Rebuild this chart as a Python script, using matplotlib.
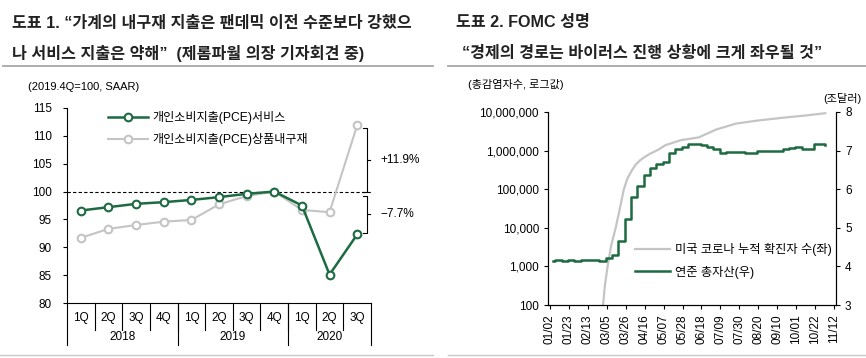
import matplotlib
matplotlib.use("Agg")
import matplotlib.pyplot as plt
import matplotlib.dates as mdates
import matplotlib.ticker as mticker
from matplotlib.lines import Line2D
import numpy as np
import pandas as pd

plt.rcParams['font.family'] = ['Liberation Sans', 'Noto Sans CJK KR', 'DejaVu Sans']
plt.rcParams['axes.unicode_minus'] = False

# ---- data: left chart (2019.4Q = 100)
quarters = ["1Q", "2Q", "3Q", "4Q", "1Q", "2Q", "3Q", "4Q", "1Q", "2Q", "3Q"]
years = ["2018", "2019", "2020"]
year_span = [4, 4, 3]
pce_services = [96.6, 97.2, 97.8, 98.1, 98.5, 99.0, 99.6, 100.0, 97.5, 85.1, 92.3]
pce_durables = [91.7, 93.3, 94.0, 94.6, 94.9, 97.7, 99.2, 100.0, 96.7, 96.3, 111.9]
label_services = "개인소비지출(PCE)서비스"
label_durables = "개인소비지출(PCE)상품내구재"

# ---- data: right chart
case_dates = ["2020-03-01", "2020-03-03", "2020-03-06", "2020-03-10", "2020-03-15",
              "2020-03-20", "2020-03-24", "2020-03-28", "2020-04-02", "2020-04-06",
              "2020-04-11", "2020-04-16", "2020-04-22", "2020-05-01", "2020-05-09",
              "2020-05-26", "2020-06-15", "2020-07-04", "2020-07-26", "2020-08-19",
              "2020-09-16", "2020-10-11", "2020-11-02"]
us_cases = [100, 320, 1000, 3500, 10000, 35000, 100000, 190000, 310000, 430000,
            560000, 680000, 830000, 1050000, 1380000, 1860000, 2200000, 3500000,
            5000000, 6000000, 7100000, 8100000, 9300000]
fed_dates = ["2020-01-06", "2020-01-08", "2020-01-15", "2020-01-22", "2020-01-29",
             "2020-02-05", "2020-02-12", "2020-02-19", "2020-02-26", "2020-03-04",
             "2020-03-11", "2020-03-18", "2020-03-25", "2020-04-01", "2020-04-08",
             "2020-04-15", "2020-04-22", "2020-04-29", "2020-05-06", "2020-05-13",
             "2020-05-20", "2020-05-27", "2020-06-03", "2020-06-10", "2020-06-17",
             "2020-06-24", "2020-07-01", "2020-07-08", "2020-07-15", "2020-07-22",
             "2020-07-29", "2020-08-05", "2020-08-12", "2020-08-19", "2020-08-26",
             "2020-09-02", "2020-09-09", "2020-09-16", "2020-09-23", "2020-09-30",
             "2020-10-07", "2020-10-14", "2020-10-21", "2020-10-28", "2020-11-02"]
fed_assets = [4.15, 4.17, 4.15, 4.16, 4.15, 4.17, 4.17, 4.16, 4.15, 4.22,
              4.29, 4.66, 5.24, 5.80, 6.08, 6.36, 6.56, 6.65, 6.71, 6.94,
              7.03, 7.09, 7.16, 7.18, 7.14, 7.09, 7.03, 6.94, 6.96, 6.96,
              6.96, 6.95, 6.95, 6.99, 6.98, 7.00, 7.00, 7.05, 7.07, 7.09,
              7.05, 7.05, 7.16, 7.18, 7.14]
label_cases = "미국 코로나 누적 확진자 수(좌)"
label_fed = "연준 총자산(우)"

GREEN = "#1d6b41"
GRAY = "#c4c4c4"
W, H = 866, 358


def fx(px):
    return px / W


def fy(py):
    return 1 - py / H


fig = plt.figure(figsize=(8.66, 3.58), dpi=100)

# titles and rules
title_kw = dict(fontsize=11.6, fontweight='bold', va='center', ha='left', color='#222222')
fig.text(fx(12), fy(23), "도표 1. “가계의 내구재 지출은 팬데믹 이전 수준보다 강했으", **title_kw)
fig.text(fx(12), fy(53), "나 서비스 지출은 약해”  (제롬파월 의장 기자회견 중)", **title_kw)
fig.text(fx(456), fy(23), "도표 2. FOMC 성명", **title_kw)
fig.text(fx(462), fy(53), "“경제의 경로는 바이러스 진행 상황에 크게 좌우될 것”", **title_kw)
for x0, x1 in [(3, 433), (448, 866)]:
    fig.add_artist(Line2D([fx(x0), fx(x1)], [fy(66), fy(66)], color="#a8a8a8", lw=1.3))
for x0, x1 in [(0, 433), (448, 866)]:
    fig.add_artist(Line2D([fx(x0), fx(x1)], [fy(355), fy(355)], color="#c8c8c8", lw=1.0))

fig.text(fx(28), fy(87), "(2019.4Q=100, SAAR)", fontsize=8, va='center', ha='left')
fig.text(fx(468), fy(84), "(총감염자수, 로그값)", fontsize=8, va='center', ha='left')
fig.text(fx(862), fy(99), "(조달러)", fontsize=8, va='center', ha='right')

# ---------------- left chart
ax = fig.add_axes([fx(67), fy(303), fx(371 - 67), (303 - 108) / H])
x = np.arange(len(quarters))
ax.plot(x, pce_durables, color=GRAY, lw=1.5, marker='o', ms=5.5, mfc='white',
        mec=GRAY, mew=1.5, label=label_durables, zorder=3)
ax.plot(x, pce_services, color=GREEN, lw=1.8, marker='o', ms=5.5, mfc='white',
        mec=GREEN, mew=1.5, label=label_services, zorder=4)
ax.axhline(100, color='black', lw=0.8, ls=(0, (3, 2)), zorder=2)
ax.set_xlim(-0.5, len(quarters) - 0.5)
ax.set_ylim(80, 115)
ax.set_yticks(np.arange(80, 116, 5))
ax.set_xticks([])
for s in ['top', 'right']:
    ax.spines[s].set_visible(False)
ax.spines['left'].set_linewidth(0.8)
ax.spines['bottom'].set_linewidth(0.8)
ax.tick_params(axis='y', labelsize=8.5, length=3, width=0.8, pad=8)

# category table below the axis
trans = ax.get_xaxis_transform()
for i, q in enumerate(quarters):
    ax.text(i, -0.077, q, transform=trans, ha='center', va='center', fontsize=8.5)
for b in range(1, len(quarters)):
    ax.plot([b - 0.5, b - 0.5], [0, -0.14], transform=trans, color='black', lw=0.8, clip_on=False)
edges = np.concatenate([[0], np.cumsum(year_span)]) - 0.5
for e in edges:
    ax.plot([e, e], [0, -0.215], transform=trans, color='black', lw=0.8, clip_on=False)
for y_label, a, b in zip(years, edges[:-1], edges[1:]):
    ax.text((a + b) / 2, -0.174, y_label, transform=trans, ha='center', va='center', fontsize=8.5)

# brackets
bx = len(quarters) - 1 + 0.34
top_b = pce_durables[-1] - 0.5
for (y0, y1), txt in [((top_b, 100.0), "+11.9%"), ((99.2, pce_services[-1] + 0.3), "−7.7%")]:
    ax.plot([bx - 0.13, bx, bx, bx - 0.13], [y0, y0, y1, y1], color='black', lw=0.8, clip_on=False)
    ym = (y0 + y1) / 2
    ax.plot([bx, bx + 0.13], [ym, ym], color='black', lw=0.8, clip_on=False)
    ax.text(bx + 0.5, ym, txt, ha='left', va='center', fontsize=8.5, clip_on=False)

h, l = ax.get_legend_handles_labels()
ax.legend(h[::-1], l[::-1], loc='upper left', bbox_to_anchor=(fx(103), fy(106)),
          bbox_transform=fig.transFigure, frameon=False, fontsize=8.7,
          handlelength=3.3, labelspacing=0.8, handletextpad=0.35, borderaxespad=0)

# ---------------- right chart
ax1 = fig.add_axes([fx(548), fy(305), fx(836 - 548), (305 - 112) / H])
ax2 = ax1.twinx()
cd = pd.to_datetime(case_dates)
fd = pd.to_datetime(fed_dates)
ln1, = ax1.plot(cd, us_cases, color=GRAY, lw=1.6, label=label_cases)
ln2, = ax2.plot(fd, fed_assets, color=GREEN, lw=1.8, drawstyle='steps-post', label=label_fed)
ax1.set_yscale('log')
ax1.set_ylim(100, 1e7)
ax1.yaxis.set_major_formatter(mticker.FuncFormatter(lambda v, p: f"{v:,.0f}"))
ax1.yaxis.set_minor_locator(mticker.NullLocator())
ax2.set_ylim(3, 8)
ax2.set_yticks(range(3, 9))
ax1.set_xlim(pd.Timestamp("2019-12-31"), pd.Timestamp("2020-11-14"))
tick_dates = pd.date_range("2020-01-02", "2020-11-12", freq="21D")
ax1.set_xticks(tick_dates)
ax1.xaxis.set_major_formatter(mdates.DateFormatter("%m/%d"))
ax1.tick_params(axis='x', labelrotation=90, labelsize=8.5, length=3, width=0.8)
ax1.tick_params(axis='y', labelsize=8.5, length=3, width=0.8)
ax2.tick_params(axis='y', labelsize=8.5, length=3, width=0.8)
for a in (ax1, ax2):
    a.spines['top'].set_visible(False)
    for s in ['left', 'right', 'bottom']:
        a.spines[s].set_linewidth(0.8)
ax2.legend([ln1, ln2], [label_cases, label_fed], loc='upper left',
           bbox_to_anchor=(fx(630), fy(238)), bbox_transform=fig.transFigure,
           frameon=False, fontsize=8.8, handlelength=2.9, labelspacing=0.8,
           handletextpad=0.35, borderaxespad=0)

fig.savefig("out.png", dpi=100)
